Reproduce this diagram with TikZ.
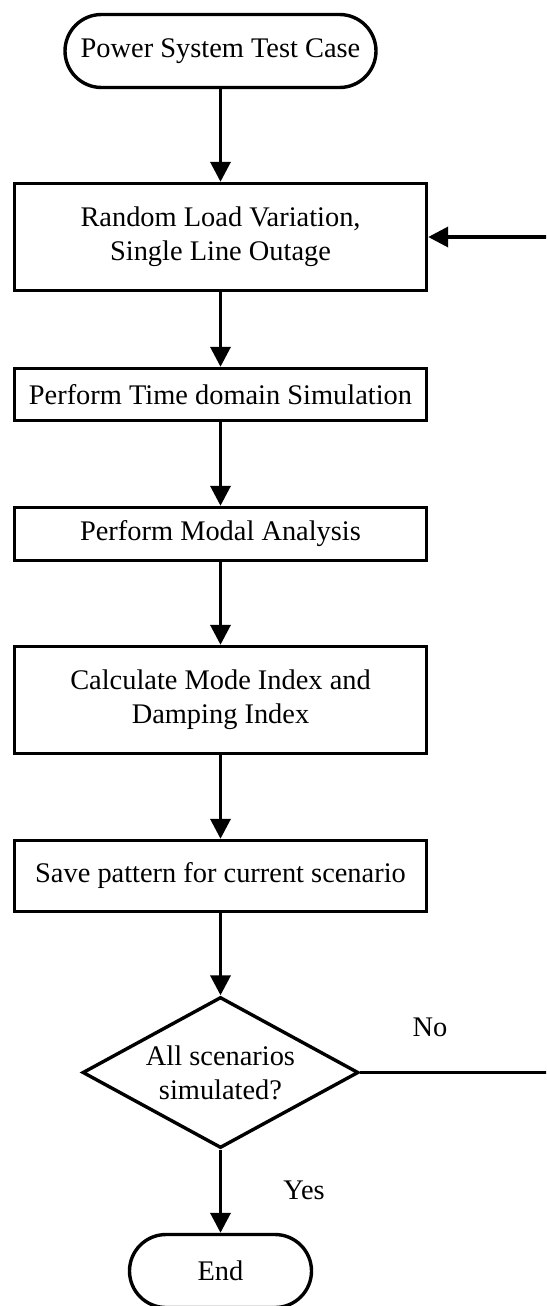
\documentclass[tikz,border=0pt]{standalone}
\usepackage{fontspec}
\setmainfont{Liberation Serif}
\usetikzlibrary{arrows.meta,shapes.geometric}
\begin{document}
\begin{tikzpicture}[x=0.5pt,y=-0.5pt,
  every node/.style={font=\fontsize{14.2pt}{17pt}\selectfont, align=center},
  flow/.style={draw, line width=1.7pt, inner sep=0pt},
  procbox/.style={flow, rectangle, minimum width=206pt},
  term/.style={flow, rectangle, rounded corners=18.25pt, minimum height=36.5pt},
  decision/.style={flow, diamond, aspect=1.83, minimum width=138pt, minimum height=75.5pt},
  link/.style={line width=1.8pt, -{Triangle[length=10pt,width=10pt]}},
  wire/.style={line width=1.7pt},
  lbl/.style={inner sep=0pt}
]
\useasboundingbox (0,0) rectangle (546,1306);
\clip (0,0) rectangle (546,1306);

% process chain
\node[term, minimum width=155.5pt] (start) at (220.5,51) {Power System Test Case};
\node[procbox, minimum height=53.5pt] (load) at (220.5,237) {Random Load Variation,\\Single Line Outage};
\node[procbox, minimum height=26pt] (tds) at (220.5,394.5) {Perform Time domain Simulation};
\node[procbox, minimum height=26.5pt] (modal) at (220.5,534) {Perform Modal Analysis};
\node[procbox, minimum height=53.5pt] (index) at (220.5,700) {Calculate Mode Index and\\Damping Index};
\node[procbox, minimum height=35.5pt] (save) at (220.5,876) {Save pattern for current scenario};
\node[decision] (done) at (220.5,1072.5) {All scenarios\\simulated?};
\node[term, minimum width=91pt] (finish) at (220.5,1271) {End};

% branch labels
\node[lbl] (no) at (430,1027) {No};
\node[lbl] (yes) at (304,1190) {Yes};

% return path of the loop (runs past the right edge)
\coordinate (loopbot) at (560,1072.5);
\coordinate (looptop) at (560,237);

\draw[link] (start.south) -- (load.north);
\draw[link] (load.south) -- (tds.north);
\draw[link] (tds.south) -- (modal.north);
\draw[link] (modal.south) -- (index.north);
\draw[link] (index.south) -- (save.north);
\draw[link] (save.south) -- (done.north);
\draw[link] (done.south) -- (finish.north);
\draw[wire] (done.east) -- (loopbot) -- (looptop);
\draw[link] (looptop) -- (load.east);
\end{tikzpicture}
\end{document}
